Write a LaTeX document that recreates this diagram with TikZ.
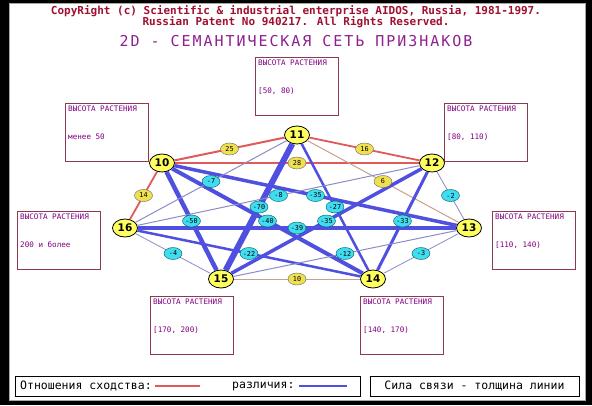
\documentclass[tikz,border=0pt]{standalone}
\usepackage{fontspec}
\setmainfont{DejaVu Sans}
\newfontfamily\pixmono{DejaVu Sans Mono}
\newfontfamily\titlemono[LetterSpace=13]{DejaVu Sans Mono}
\usetikzlibrary{shapes.geometric}

\definecolor{simred}{HTML}{E05A5A}
\definecolor{simpale}{HTML}{C8A090}
\definecolor{difblue}{HTML}{4F4FE0}
\definecolor{difpale}{HTML}{8C8CC8}
\definecolor{boxline}{HTML}{8C3A50}
\definecolor{boxtext}{HTML}{800080}
\definecolor{copyred}{HTML}{A01030}
\definecolor{titlepurple}{HTML}{902090}
\definecolor{nodeyellow}{HTML}{FFFF60}
\definecolor{labyellow}{HTML}{F0E050}
\definecolor{labcyan}{HTML}{40DCF0}

\tikzset{
  feature/.style={ellipse, draw=black, line width=0.8pt, fill=nodeyellow,
    minimum width=25pt, minimum height=18pt, inner sep=0pt,
    font=\bfseries\fontsize{10.5}{10.5}\selectfont},
  simlabel/.style={ellipse, draw=black!60, fill=labyellow, minimum width=18pt,
    minimum height=12pt, inner sep=0pt, font=\pixmono\fontsize{6.8}{6.8}\selectfont},
  diflabel/.style={simlabel, fill=labcyan, draw=teal!70!black},
  infobox/.style={draw=boxline, line width=1pt, minimum width=83pt,
    minimum height=58pt, anchor=north west, inner sep=0pt},
  boxtext/.style={text=boxtext, inner sep=0pt, font=\pixmono\fontsize{7.6}{7.6}\selectfont},
  legendtext/.style={inner sep=0pt, font=\pixmono\fontsize{11.5}{11.5}\selectfont},
  copytext/.style={text=copyred, inner sep=0pt, font=\pixmono\bfseries\fontsize{11}{11}\selectfont}
}

\newcommand{\featbox}[4]{%
  \node[infobox] (#1) at (#2,#3) {};
  \node[boxtext, anchor=west] at ([xshift=3pt,yshift=-6pt]#1.north west) {ВЫСОТА РАСТЕНИЯ};
  \node[boxtext, anchor=west] at ([xshift=3pt,yshift=-34pt]#1.north west) {#4};
}

\begin{document}
\begin{tikzpicture}[x=1pt,y=-1pt]
  \useasboundingbox (0,0) rectangle (592,405);
  \fill[black] (0,0) rectangle (592,405);
  \fill[white] (9,3) rectangle (585,400);
  \draw[gray!70] (9,3) rectangle (585,400);

  \node[copytext] (copy1) at (296,11)
    {CopyRight (c) Scientific \& industrial enterprise AIDOS, Russia, 1981-1997.};
  \node[copytext] (copy2) at (296,22.5)
    {Russian Patent No 940217. All Rights Reserved.};
  \node[text=titlepurple, inner sep=0pt, font=\titlemono\fontsize{15}{15}\selectfont] (title) at (296,41)
    {2D - СЕМАНТИЧЕСКАЯ СЕТЬ ПРИЗНАКОВ};

  \featbox{b11}{255}{57}{[50, 80)}
  \featbox{b10}{65}{103}{менее 50}
  \featbox{b12}{444}{103}{[80, 110)}
  \featbox{b16}{17}{211}{200 и более}
  \featbox{b13}{492}{211}{[110, 140)}
  \featbox{b15}{150}{296}{[170, 200)}
  \featbox{b14}{360}{296}{[140, 170)}

  \node[feature] (n11) at (297,135) {11};
  \node[feature] (n10) at (162,163) {10};
  \node[feature] (n12) at (432,163) {12};
  \node[feature] (n16) at (125,228) {16};
  \node[feature] (n13) at (469,228) {13};
  \node[feature] (n15) at (221,279) {15};
  \node[feature] (n14) at (373,279) {14};

  \foreach \a/\b/\w/\c in {n10/n11/2/simred, n10/n12/1.8/simred, n11/n12/1.8/simred,
      n10/n16/1.8/simred, n15/n14/1/simpale, n11/n13/1/simpale,
      n11/n15/6/difblue, n10/n15/4.5/difblue, n10/n14/4/difblue, n13/n16/3.5/difblue,
      n10/n13/3.5/difblue, n12/n15/3.5/difblue, n12/n14/3/difblue, n11/n14/2.5/difblue,
      n14/n16/2.5/difblue, n13/n15/1/difpale, n12/n16/1/difpale, n11/n16/1/difpale,
      n15/n16/0.8/difpale, n13/n14/0.8/difpale, n12/n13/0.8/difpale}
    \draw[draw=\c, line width=\w pt] (\a) -- (\b);

  \foreach \a/\b/\v/\s in {n10/n11/25/simlabel, n10/n12/28/simlabel, n11/n12/16/simlabel,
      n10/n16/14/simlabel, n15/n14/10/simlabel, n11/n13/6/simlabel,
      n11/n15/-70/diflabel, n10/n15/-50/diflabel, n10/n14/-40/diflabel, n13/n16/-39/diflabel,
      n10/n13/-35/diflabel, n12/n15/-35/diflabel, n12/n14/-33/diflabel, n11/n14/-27/diflabel,
      n14/n16/-22/diflabel, n13/n15/-12/diflabel, n12/n16/-8/diflabel, n11/n16/-7/diflabel,
      n15/n16/-4/diflabel, n13/n14/-3/diflabel, n12/n13/-2/diflabel}
    \path (\a) -- (\b) node[midway, \s] {\v};

  \draw[black, line width=0.8pt] (15,376) rectangle (360,396);
  \node[legendtext, anchor=west] (simtext) at (20,386) {Отношения сходства:};
  \draw[simred, line width=2pt] ([xshift=3pt]simtext.east) -- ++(45,0);
  \node[legendtext, anchor=west] (diftext) at (232,386) {различия:};
  \draw[difblue, line width=2pt] ([xshift=4pt]diftext.east) -- ++(48,0);
  \draw[black, line width=0.8pt] (370,376) rectangle (579,396);
  \node[legendtext] (widthtext) at (474.5,386) {Сила связи - толщина линии};
\end{tikzpicture}
\end{document}
